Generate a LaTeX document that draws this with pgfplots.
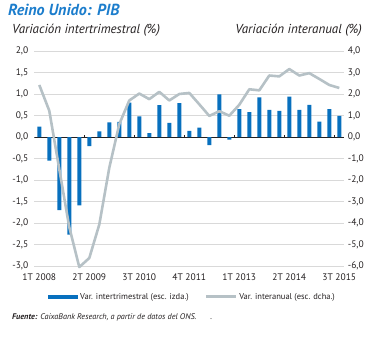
\documentclass[border=0pt]{standalone}
\usepackage{pgfplots}
\usepackage{pgfplotstable}
\pgfplotsset{compat=1.18}
\usetikzlibrary{calc}
\usepackage{fontspec}
\setmainfont{PT Sans}
\definecolor{barblue}{HTML}{0870BE}
\definecolor{titleblue}{HTML}{1C7DCC}
\definecolor{linegray}{HTML}{B6C1C6}
\definecolor{gridgray}{HTML}{D9D9D9}
\definecolor{txt}{HTML}{231F20}

\pgfplotstableread{
q v
0 0.24
1 -0.55
2 -1.70
3 -2.27
4 -1.59
5 -0.21
6 0.13
7 0.34
8 0.35
9 0.80
10 0.48
11 0.09
12 0.74
13 0.33
14 0.79
15 0.14
16 0.22
17 -0.19
18 0.99
19 -0.06
20 0.65
21 0.58
22 0.92
23 0.63
24 0.61
25 0.94
26 0.63
27 0.75
28 0.36
29 0.65
30 0.49
}\bars

\pgfplotstableread{
q v
0 2.42
1 1.22
2 -1.50
3 -4.20
4 -6.05
5 -5.63
6 -4.07
7 -1.43
8 0.60
9 1.70
10 2.02
11 1.76
12 2.10
13 1.70
14 2.00
15 2.05
16 1.52
17 0.98
18 1.20
19 0.99
20 1.50
21 2.22
22 2.17
23 2.86
24 2.82
25 3.16
26 2.86
27 2.97
28 2.70
29 2.42
30 2.28
}\yoy

\begin{document}
\begin{tikzpicture}
\begin{axis}[
  scale only axis,
  width=310pt, height=215pt,
  xmin=-0.5, xmax=30.5, ymin=-3, ymax=2,
  ytick={-3,-2.5,-2,-1.5,-1,-0.5,0,0.5,1,1.5,2},
  xtick={0,5,10,15,20,25,30},
  xticklabels={1T 2008,2T 2009,3T 2010,4T 2011,1T 2013,2T 2014,3T 2015},
  major tick length=0pt,
  axis line style={draw=none},
  ymajorgrids, grid style={gridgray, line width=0.6pt},
  yticklabel style={xshift=-2.5pt, /pgf/number format/.cd, fixed, fixed zerofill, precision=1, use comma, assume math mode=true},
  tick label style={font=\fontsize{9.5}{11}\selectfont, text=txt},
  xticklabel style={yshift=-4pt},
  legend style={at={(0.044,-0.143)}, anchor=west, draw=none, fill=none, inner sep=0pt,
    font=\fontsize{8.5}{10}\selectfont, text=txt,
    /tikz/every even column/.append style={column sep=14pt}},
  legend columns=2,
]
\coordinate (LL) at (rel axis cs:0,0);
\draw[txt, line width=0.7pt] (axis cs:-0.5,0) -- (axis cs:30.5,0);
\pgfplotsinvokeforeach{4.5,9.5,14.5,19.5,24.5,29.5}{
  \draw[txt, line width=0.6pt] (axis cs:#1,0) -- ++(0pt,2.2pt);
}
\addplot[ybar, bar width=4pt, fill=barblue, draw=none,
  legend image code/.code={\fill[barblue] (0pt,-2pt) rectangle (30pt,2pt);}]
  table[x=q, y=v] {\bars};
\addlegendentry{Var. intertrimestral (esc. izda.)}
\addlegendimage{legend image code/.code={\draw[linegray, line width=2.6pt] (0pt,0pt) -- (30pt,0pt);}}
\addlegendentry{Var. interanual (esc. dcha.)}
\end{axis}

\begin{axis}[
  scale only axis,
  width=310pt, height=215pt,
  xmin=-0.5, xmax=30.5, ymin=-6, ymax=4,
  ytick={-6,-5,-4,-3,-2,-1,0,1,2,3,4},
  axis x line=none, axis y line*=right,
  y axis line style={draw=none},
  major tick length=0pt,
  clip=false,
  yticklabel style={/pgf/number format/.cd, fixed, fixed zerofill, precision=1, use comma, assume math mode=true},
  tick label style={font=\fontsize{9.5}{11}\selectfont, text=txt},
]
\addplot[linegray, line width=2.6pt, line join=round, mark=none] table[x=q, y=v] {\yoy};
\end{axis}

\coordinate (P) at ($(LL)+(-34.3pt,-72pt)$);
\node[anchor=base west, font=\bfseries\itshape\fontsize{16}{18}\selectfont, text=titleblue, inner sep=0pt] at ($(P)+(8pt,322pt)$) {Reino Unido: PIB};
\node[anchor=base west, font=\itshape\fontsize{13}{15}\selectfont, text=txt, inner sep=0pt] at ($(P)+(12pt,304pt)$) {Variación intertrimestral (\%)};
\node[anchor=base east, font=\itshape\fontsize{13}{15}\selectfont, text=txt, inner sep=0pt] at ($(P)+(362pt,304pt)$) {Variación interanual (\%)};
\node[anchor=base west, font=\itshape\fontsize{8.2}{9}\selectfont, text=txt, inner sep=0pt] at ($(P)+(12pt,19pt)$) {\textbf{Fuente:} CaixaBank Research, a partir de datos del ONS.\hspace{14pt}.};
\pgfresetboundingbox
\path[use as bounding box] (P) rectangle ($(P)+(373pt,338pt)$);
\end{tikzpicture}
\end{document}
